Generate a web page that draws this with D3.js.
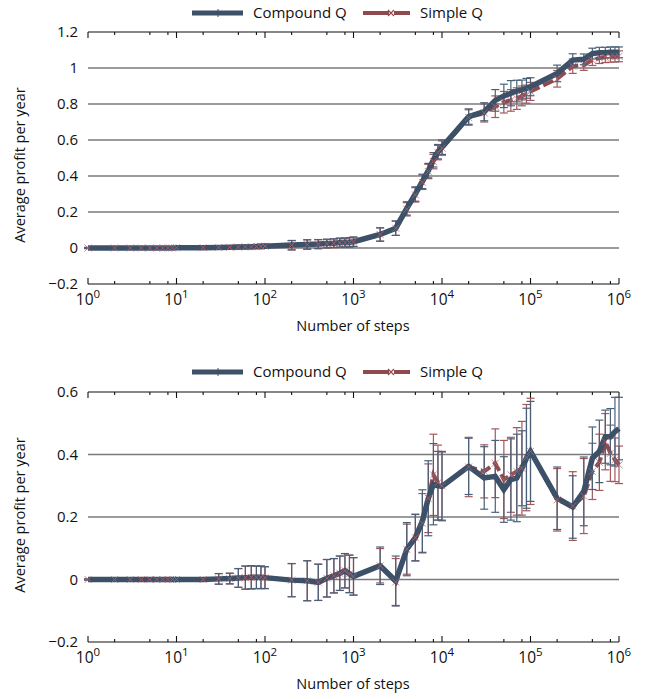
<!DOCTYPE html>
<html>
<head>
<meta charset="utf-8">
<script src="https://cdn.jsdelivr.net/npm/d3@7"></script>
<style>
  html, body { margin: 0; padding: 0; background: #fff; }
  svg text { font-family: "Open Sans", "Noto Sans", sans-serif; fill: #111; }
</style>
</head>
<body>
<svg id="chart" width="646" height="699"></svg>
<script>
// ---------- data ----------
const steps = [1,2,3,4,5,6,7,8,9,10,
  20,30,40,50,60,70,80,90,100,
  200,300,400,500,600,700,800,900,1000,
  2000,3000,4000,5000,6000,7000,8000,9000,10000,
  20000,30000,40000,50000,60000,70000,80000,90000,100000,
  200000,300000,400000,500000,600000,700000,800000,900000,1000000];

const seriesNames = ["Compound Q", "Simple Q"];

// top panel
const topCompound = [0,0,0,0,0,0,0,0,0,0.002,
  0.002,0.003,0.004,0.005,0.006,0.007,0.008,0.009,0.01,
  0.016,0.02,0.022,0.025,0.027,0.03,0.03,0.032,0.035,
  0.075,0.11,0.22,0.30,0.37,0.43,0.49,0.535,0.56,
  0.73,0.757,0.82,0.845,0.86,0.872,0.878,0.887,0.896,
  0.97,1.044,1.048,1.08,1.085,1.085,1.087,1.087,1.087];
const topCompoundErr = [0.003,0.003,0.003,0.003,0.003,0.003,0.003,0.003,0.003,0.003,
  0.004,0.008,0.009,0.01,0.01,0.011,0.011,0.012,0.012,
  0.026,0.026,0.025,0.024,0.024,0.025,0.025,0.026,0.026,
  0.037,0.04,0.037,0.04,0.04,0.04,0.04,0.04,0.04,
  0.043,0.05,0.06,0.065,0.07,0.06,0.055,0.055,0.05,
  0.046,0.035,0.03,0.03,0.03,0.03,0.03,0.03,0.03];
const topSimple = [0,0,0,0,0,0,0,0,0,0.002,
  0.002,0.003,0.004,0.005,0.006,0.007,0.008,0.009,0.01,
  0.015,0.019,0.021,0.024,0.026,0.029,0.03,0.031,0.034,
  0.075,0.11,0.215,0.295,0.365,0.425,0.48,0.53,0.555,
  0.725,0.75,0.785,0.81,0.82,0.83,0.845,0.855,0.87,
  0.94,1.01,1.017,1.044,1.055,1.06,1.062,1.063,1.065];
const topSimpleErr = [0.003,0.003,0.003,0.003,0.003,0.003,0.003,0.003,0.003,0.003,
  0.004,0.008,0.009,0.01,0.01,0.011,0.011,0.012,0.012,
  0.026,0.026,0.025,0.024,0.024,0.025,0.025,0.026,0.026,
  0.037,0.04,0.037,0.04,0.04,0.04,0.04,0.04,0.04,
  0.043,0.05,0.06,0.06,0.06,0.06,0.055,0.05,0.05,
  0.046,0.04,0.03,0.03,0.03,0.03,0.03,0.03,0.03];

// bottom panel
const botCompound = [0,0,0,0,0,0,0,0,0,0,
  0,0.002,0.003,0.005,0.006,0.007,0.007,0.007,0.006,
  -0.002,-0.004,-0.009,0.004,0.012,0.02,0.028,0.018,0.01,
  0.044,-0.005,0.097,0.134,0.187,0.26,0.305,0.30,0.298,
  0.362,0.325,0.33,0.288,0.32,0.325,0.356,0.388,0.41,
  0.26,0.232,0.282,0.388,0.41,0.457,0.457,0.473,0.483];
const botCompoundErr = [0.002,0.002,0.002,0.002,0.002,0.002,0.002,0.002,0.002,0.002,
  0.005,0.017,0.017,0.03,0.037,0.037,0.036,0.036,0.035,
  0.053,0.064,0.058,0.06,0.055,0.055,0.055,0.06,0.06,
  0.06,0.08,0.085,0.074,0.1,0.12,0.13,0.11,0.11,
  0.09,0.1,0.115,0.105,0.13,0.14,0.12,0.16,0.16,
  0.1,0.1,0.11,0.1,0.1,0.085,0.09,0.11,0.1];
const botSimple = [0,0,0,0,0,0,0,0,0,0,
  0,0.002,0.003,0.005,0.006,0.007,0.007,0.007,0.006,
  -0.002,-0.004,-0.009,0.004,0.012,0.02,0.028,0.018,0.01,
  0.044,-0.008,0.097,0.134,0.18,0.26,0.335,0.31,0.30,
  0.36,0.346,0.372,0.32,0.335,0.346,0.356,0.39,0.41,
  0.255,0.235,0.267,0.346,0.375,0.441,0.404,0.383,0.367];
const botSimpleErr = [0.002,0.002,0.002,0.002,0.002,0.002,0.002,0.002,0.002,0.002,
  0.005,0.017,0.017,0.03,0.037,0.037,0.036,0.036,0.035,
  0.053,0.064,0.058,0.06,0.055,0.055,0.055,0.06,0.06,
  0.055,0.075,0.08,0.075,0.095,0.11,0.13,0.12,0.11,
  0.095,0.085,0.11,0.125,0.12,0.14,0.15,0.17,0.17,
  0.1,0.11,0.12,0.09,0.09,0.09,0.09,0.07,0.06];

const xDecades = [1,10,100,1000,10000,100000,1000000];
const topYTicks = [-0.2,0,0.2,0.4,0.6,0.8,1,1.2];
const botYTicks = [-0.2,0,0.2,0.4,0.6];

// ---------- styling ----------
const blue = "#3c5168";
const red = "#8e4a4f";
const blueBar = "#4a6079";
const redBar = "#a2585d";

const svg = d3.select("#chart");
const fmtY = v => (v < 0 ? "\u2212" + Math.abs(v) : String(v));

function panel(cfg) {
  const x = d3.scaleLog().domain([1, 1e6]).range([88, 619]);
  const y = d3.scaleLinear().domain(cfg.yDomain).range([cfg.bottom, cfg.top]);
  const g = svg.append("g");

  // gridlines
  g.append("g").selectAll("line")
    .data(cfg.yTicks.filter(t => t > cfg.yDomain[0] && t < cfg.yDomain[1]))
    .join("line")
    .attr("x1", x.range()[0]).attr("x2", x.range()[1])
    .attr("y1", d => y(d)).attr("y2", d => y(d))
    .attr("stroke", "#7a7a7a").attr("stroke-width", 1.3);

  // y axis labels (axis with no domain / ticks)
  const yAxis = g.append("g").attr("transform", `translate(${x.range()[0]},0)`)
    .call(d3.axisLeft(y).tickValues(cfg.yTicks).tickSize(0).tickPadding(10).tickFormat(fmtY));
  yAxis.select(".domain").remove();
  yAxis.selectAll("text").attr("font-size", 15).attr("font-family", '"Open Sans", sans-serif').attr("fill", "#111");

  // minor ticks
  const minor = [];
  for (let e = 0; e < 6; e++) [2,5,8].forEach(m => minor.push(m * Math.pow(10, e)));

  // bottom & top frame lines with ticks
  [[cfg.bottom, -1], [cfg.top, 1]].forEach(([yy, dir]) => {
    g.append("line").attr("x1", x.range()[0]).attr("x2", x.range()[1])
      .attr("y1", yy).attr("y2", yy).attr("stroke", "#111").attr("stroke-width", 1.2);
    g.append("g").selectAll("line").data(xDecades).join("line")
      .attr("x1", d => x(d)).attr("x2", d => x(d))
      .attr("y1", yy).attr("y2", yy + dir * 6)
      .attr("stroke", "#111").attr("stroke-width", 1.1);
    g.append("g").selectAll("line").data(minor).join("line")
      .attr("x1", d => x(d)).attr("x2", d => x(d))
      .attr("y1", yy).attr("y2", yy + dir * 3)
      .attr("stroke", "#111").attr("stroke-width", 1.1);
  });

  // x tick labels 10^n
  const xl = g.append("g").selectAll("text").data(xDecades).join("text")
    .attr("x", d => x(d)).attr("y", cfg.bottom + 21)
    .attr("text-anchor", "middle").attr("font-size", 15.5);
  xl.append("tspan").text("10");
  xl.append("tspan").attr("dy", -7).attr("font-size", 11.5).text(d => Math.round(Math.log10(d)));

  // axis titles
  g.append("text").attr("x", 353).attr("y", cfg.bottom + 47)
    .attr("text-anchor", "middle").attr("font-size", 14.5).text("Number of steps");
  g.append("text").attr("transform", `translate(25,${cfg.ycenter}) rotate(-90)`)
    .attr("text-anchor", "middle").attr("font-size", 14.5).text("Average profit per year");

  // series
  const series = [
    {vals: cfg.simple, err: cfg.simpleErr, color: red, bar: redBar, width: 4, dash: "11,4", marker: "x"},
    {vals: cfg.compound, err: cfg.compoundErr, color: blue, bar: blueBar, width: 5.5, dash: null, marker: "+"}
  ];
  const markerLayers = [];
  series.forEach(s => {
    const pts = steps.map((st, i) => ({x: st, y: s.vals[i], e: s.err[i]}));
    const eg = g.append("g").attr("stroke", s.bar).attr("stroke-width", 1.2);
    eg.selectAll("line.v").data(pts).join("line").attr("class", "v")
      .attr("x1", d => x(d.x)).attr("x2", d => x(d.x))
      .attr("y1", d => y(d.y - d.e)).attr("y2", d => y(d.y + d.e));
    eg.selectAll("line.t").data(pts).join("line").attr("class", "t")
      .attr("x1", d => x(d.x) - 4).attr("x2", d => x(d.x) + 4)
      .attr("y1", d => y(d.y + d.e)).attr("y2", d => y(d.y + d.e));
    eg.selectAll("line.b").data(pts).join("line").attr("class", "b")
      .attr("x1", d => x(d.x) - 4).attr("x2", d => x(d.x) + 4)
      .attr("y1", d => y(d.y - d.e)).attr("y2", d => y(d.y - d.e));
    const line = d3.line().x(d => x(d.x)).y(d => y(d.y));
    const p = g.append("path").datum(pts).attr("d", line)
      .attr("fill", "none").attr("stroke", s.color).attr("stroke-width", s.width)
      .attr("stroke-linejoin", "miter");
    if (s.dash) p.attr("stroke-dasharray", s.dash);
    if (s.marker === "x") markerLayers.push(pts);
  });
  // red x markers, partly visible around the blue line
  markerLayers.forEach(pts => {
    g.append("g").attr("stroke", "#c0646a").attr("stroke-width", 0.9).attr("opacity", 0.8)
      .selectAll("path").data(pts).join("path")
      .attr("d", d => { const cx = x(d.x), cy = y(d.y), r = 3.5;
        return `M${cx-r},${cy-r}L${cx+r},${cy+r}M${cx-r},${cy+r}L${cx+r},${cy-r}`; });
  });

  // legend
  const ly = cfg.legendY;
  const lg = g.append("g");
  lg.append("line").attr("x1", 192).attr("x2", 243).attr("y1", ly).attr("y2", ly)
    .attr("stroke", blue).attr("stroke-width", 5);
  lg.append("line").attr("x1", 218).attr("x2", 218).attr("y1", ly - 4).attr("y2", ly + 4)
    .attr("stroke", blue).attr("stroke-width", 1);
  lg.append("text").attr("x", 253).attr("y", ly + 5).attr("font-size", 15).text(seriesNames[0]);
  lg.append("line").attr("x1", 363).attr("x2", 389).attr("y1", ly).attr("y2", ly)
    .attr("stroke", red).attr("stroke-width", 4);
  lg.append("line").attr("x1", 394).attr("x2", 410).attr("y1", ly).attr("y2", ly)
    .attr("stroke", red).attr("stroke-width", 4);
  lg.append("path").attr("d", `M${388},${ly-3}L${394},${ly+3}M${388},${ly+3}L${394},${ly-3}`)
    .attr("stroke", red).attr("stroke-width", 1.2);
  lg.append("text").attr("x", 420).attr("y", ly + 5).attr("font-size", 15).text(seriesNames[1]);
}

panel({yDomain: [-0.2, 1.2], top: 32, bottom: 284, yTicks: topYTicks, ycenter: 165, legendY: 13,
  compound: topCompound, compoundErr: topCompoundErr, simple: topSimple, simpleErr: topSimpleErr});
panel({yDomain: [-0.2, 0.6], top: 392, bottom: 642, yTicks: botYTicks, ycenter: 515, legendY: 372,
  compound: botCompound, compoundErr: botCompoundErr, simple: botSimple, simpleErr: botSimpleErr});
</script>
</body>
</html>
